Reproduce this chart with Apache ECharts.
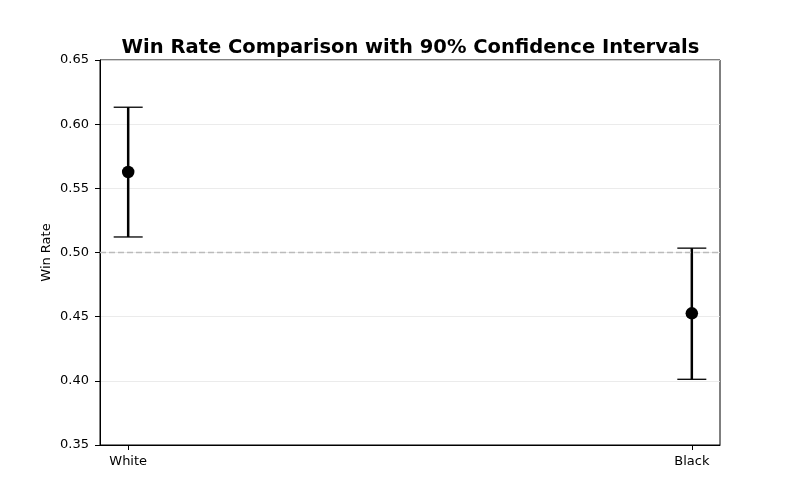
<!DOCTYPE html>
<html><head><meta charset="utf-8">
<script src="https://cdn.jsdelivr.net/npm/echarts@6/dist/echarts.min.js"></script>
<style>html,body{margin:0;padding:0;background:#fff}#c{width:800px;height:500px}</style>
</head><body><div id="c"></div>
<script>
var categories = ['White', 'Black'];
var winRate = [0.5627, 0.4526];
var ciLower = [0.5121, 0.4012];
var ciUpper = [0.6132, 0.5034];
var yTicks = [0.35, 0.40, 0.45, 0.50, 0.55, 0.60, 0.65];

var chart = echarts.init(document.getElementById('c'), null, {renderer: 'canvas'});
var F = 'DejaVu Sans';
var errData = categories.map(function (c, i) { return [i, ciLower[i], ciUpper[i]]; });
var ptData = categories.map(function (c, i) { return [i, winRate[i]]; });

chart.setOption({
  animation: false,
  backgroundColor: '#fff',
  title: {
    text: 'Win Rate Comparison with 90% Confidence Intervals',
    left: 405.5, top: 33, textAlign: 'center',
    textStyle: {fontFamily: F, fontSize: 19.5, fontWeight: 'bold', color: '#000'}
  },
  grid: {left: 100, right: 80, top: 60, bottom: 55, show: true, borderColor: '#000', borderWidth: 1, backgroundColor: 'transparent'},
  xAxis: {
    type: 'value', min: -0.05, max: 1.05,
    splitLine: {show: false},
    axisLine: {show: true, onZero: false, lineStyle: {color: '#000', width: 1}},
    axisTick: {show: true, inside: false, customValues: [0, 1], length: 5, lineStyle: {color: '#000'}},
    axisLabel: {show: true, customValues: [0, 1], margin: 10, fontFamily: F, fontSize: 13, color: '#000',
      formatter: function (v) { return categories[Math.round(v)]; }}
  },
  yAxis: {
    type: 'value', min: 0.35, max: 0.65, interval: 0.05,
    name: 'Win Rate', nameLocation: 'middle', nameGap: 47, nameRotate: 90, nameMoveOverlap: false,
    nameTextStyle: {fontFamily: F, fontSize: 13, color: '#000'},
    axisLine: {show: true, onZero: false, lineStyle: {color: '#000', width: 1}},
    axisTick: {show: true, inside: false, length: 5, lineStyle: {color: '#000', width: 1}},
    axisLabel: {fontFamily: F, fontSize: 13, color: '#000', margin: 11,
      formatter: function (v) { return v.toFixed(2); }},
    splitLine: {show: true, lineStyle: {color: '#e6e6e6', width: 0.8}}
  },
  series: [
    {
      type: 'custom',
      data: errData,
      renderItem: function (params, api) {
        var x = api.value(0);
        var lo = api.coord([x, api.value(1)]);
        var hi = api.coord([x, api.value(2)]);
        var cap = 14.5;
        return {
          type: 'group',
          children: [
            {type: 'line', shape: {x1: lo[0], y1: lo[1], x2: hi[0], y2: hi[1]}, style: {stroke: '#000', lineWidth: 2.5}},
            {type: 'line', shape: {x1: lo[0] - cap, y1: lo[1], x2: lo[0] + cap, y2: lo[1]}, style: {stroke: '#000', lineWidth: 1.3}},
            {type: 'line', shape: {x1: hi[0] - cap, y1: hi[1], x2: hi[0] + cap, y2: hi[1]}, style: {stroke: '#000', lineWidth: 1.3}}
          ]
        };
      },
      markLine: {
        silent: true, symbol: 'none', label: {show: false},
        lineStyle: {color: '#bbbbbb', type: [6, 3], width: 1.3},
        data: [{yAxis: 0.5}]
      },
      z: 3
    },
    {
      type: 'scatter',
      data: ptData,
      symbol: 'circle', symbolSize: 12.5,
      itemStyle: {color: '#000', opacity: 1},
      z: 4
    }
  ]
});
</script>
</body></html>
